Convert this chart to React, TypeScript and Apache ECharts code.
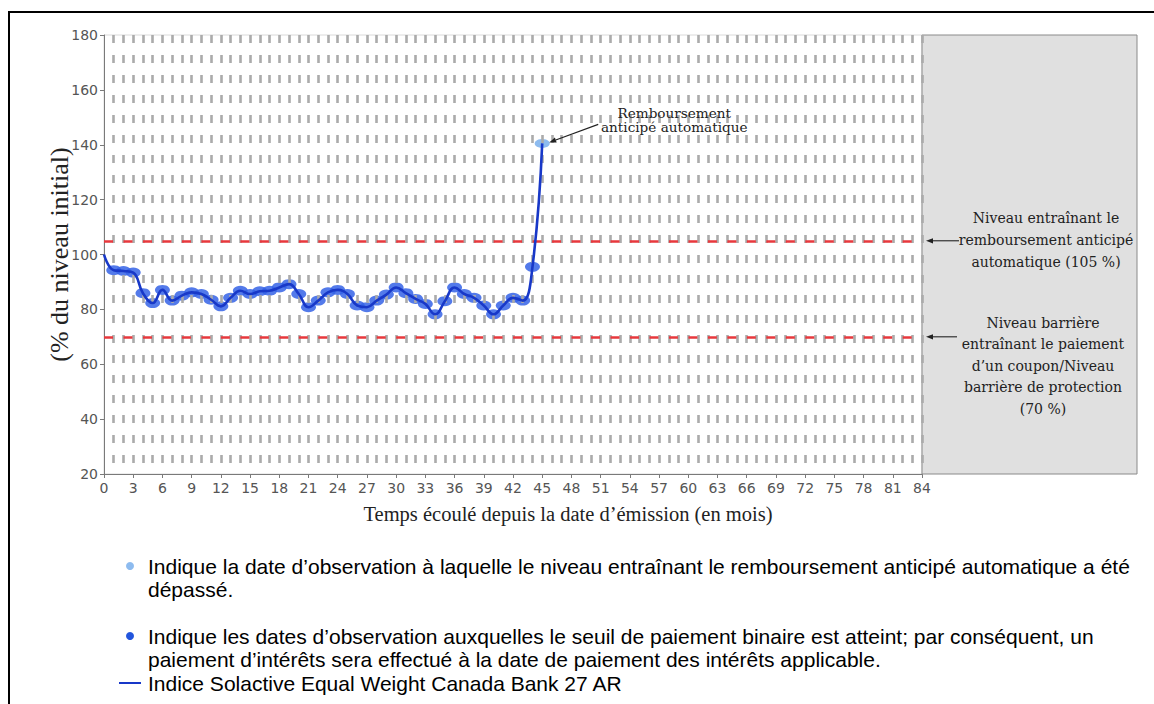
import React, { useEffect, useRef } from 'react';
import * as echarts from 'echarts';

// ---- data ----
const months = [0, 1, 2, 3, 4, 5, 6, 7, 8, 9, 10, 11, 12, 13, 14, 15, 16, 17, 18, 19, 20, 21, 22, 23, 24, 25, 26, 27, 28, 29, 30, 31, 32, 33, 34, 35, 36, 37, 38, 39, 40, 41, 42, 43, 44, 45];
const indexLevels = [100, 94.3, 94, 93.4, 85.9, 82.3, 87.1, 83.2, 85, 86.2, 85.6, 83.5, 81.1, 84.2, 86.8, 85.6, 86.6, 86.8, 88, 89.2, 85.6, 80.8, 83.2, 86.2, 87.1, 85.6, 81.4, 80.8, 83.2, 85.4, 88, 85.9, 83.8, 82, 78.2, 83, 88, 85.6, 84.2, 81.4, 78.2, 81.4, 84.2, 83.2, 95.5, 140.5];
const couponMonths = [1, 2, 3, 4, 5, 6, 7, 8, 9, 10, 11, 12, 13, 14, 15, 16, 17, 18, 19, 20, 21, 22, 23, 24, 25, 26, 27, 28, 29, 30, 31, 32, 33, 34, 35, 36, 37, 38, 39, 40, 41, 42, 43, 44];
const autocallMonth = 45;
const autocallLevel = 105;
const barrierLevel = 70;
const gridMonths = [1, 2, 3, 4, 5, 6, 7, 8, 9, 10, 11, 12, 13, 14, 15, 16, 17, 18, 19, 20, 21, 22, 23, 24, 25, 26, 27, 28, 29, 30, 31, 32, 33, 34, 35, 36, 37, 38, 39, 40, 41, 42, 43, 44, 45, 46, 47, 48, 49, 50, 51, 52, 53, 54, 55, 56, 57, 58, 59, 60, 61, 62, 63, 64, 65, 66, 67, 68, 69, 70, 71, 72, 73, 74, 75, 76, 77, 78, 79, 80, 81, 82, 83, 84];
const xMin = 0, xMax = 84, xStep = 3;
const yMin = 20, yMax = 180, yStep = 20;

const xTitle = 'Temps écoulé depuis la date d’émission (en mois)';
const yTitle = '(% du niveau initial)';
const noteAutocall = 'Remboursement\nanticipé automatique';
const noteAutocallLevel = 'Niveau entraînant le\nremboursement anticipé\nautomatique (105 %)';
const noteBarrier = 'Niveau barrière\nentraînant le paiement\nd’un coupon/Niveau\nbarrière de protection\n(70 %)';
const legend1 = ['Indique la date d’observation à laquelle le niveau entraînant le remboursement anticipé automatique a été', 'dépassé.'];
const legend2 = ['Indique les dates d’observation auxquelles le seuil de paiement binaire est atteint; par conséquent, un', 'paiement d’intérêts sera effectué à la date de paiement des intérêts applicable.'];
const legend3 = 'Indice Solactive Equal Weight Canada Bank 27 AR';

const LINE_BLUE = '#1838c8';
const DOT_BLUE = '#3563e6';
const LIGHT_BLUE = '#8dbbef';

function arrow(x1: number, y1: number, x2: number, y2: number, size = 7, half = 2.6) {
  const ang = Math.atan2(y2 - y1, x2 - x1);
  const bx = x2 - size * Math.cos(ang);
  const by = y2 - size * Math.sin(ang);
  const nx = -Math.sin(ang) * half;
  const ny = Math.cos(ang) * half;
  return [
    { type: 'line', z: 20, shape: { x1, y1, x2: bx, y2: by }, style: { stroke: '#222', lineWidth: 1.1 } },
    { type: 'polygon', z: 20, shape: { points: [[x2, y2], [bx + nx, by + ny], [bx - nx, by - ny]] }, style: { fill: '#222' } },
  ];
}

export default function App() {
  const ref = useRef<HTMLDivElement>(null);
  useEffect(() => {
    if (!ref.current) return;
    const chart = echarts.init(ref.current, null, { renderer: 'svg' });
    const lineData = months.map((m, i) => [m, indexLevels[i]]);
    const couponData = couponMonths.map((m) => [m, indexLevels[months.indexOf(m)]]);
    const autocallData = [[autocallMonth, indexLevels[months.indexOf(autocallMonth)]]];
    const dashStyle = { color: '#ababab', width: 2.6, type: [8, 12] as number[], dashOffset: 9 };

    chart.setOption({
      animation: false,
      backgroundColor: '#ffffff',
      grid: { left: 104, top: 35, width: 818, height: 439, show: true, borderColor: '#dadada', borderWidth: 1, backgroundColor: 'transparent' },
      xAxis: {
        type: 'value', min: xMin, max: xMax, interval: xStep,
        axisLine: { show: true, lineStyle: { color: '#7a7a7a', width: 1 } },
        axisTick: { show: true, length: 4, lineStyle: { color: '#7a7a7a' } },
        axisLabel: { fontFamily: 'DejaVu Sans', fontSize: 14, color: '#555', margin: 7 },
        splitLine: { show: false },
      },
      yAxis: {
        type: 'value', min: yMin, max: yMax, interval: yStep,
        axisLine: { show: true, lineStyle: { color: '#7a7a7a', width: 1 } },
        axisTick: { show: true, length: 4, lineStyle: { color: '#7a7a7a' } },
        axisLabel: { fontFamily: 'DejaVu Sans', fontSize: 14, color: '#555', margin: 6 },
        splitLine: { show: false },
      },
      series: [
        {
          type: 'line', data: [], silent: true, z: 2,
          markLine: {
            silent: true, symbol: 'none', label: { show: false }, animation: false,
            lineStyle: dashStyle,
            data: gridMonths.map((m) => ({ xAxis: m })),
          },
        },
        {
          type: 'line', data: [], silent: true, z: 3,
          markLine: {
            silent: true, symbol: 'none', label: { show: false }, animation: false,
            lineStyle: { color: '#e8383d', width: 2.6, type: [9, 10.48] },
            data: [{ yAxis: autocallLevel }, { yAxis: barrierLevel }],
          },
        },
        {
          type: 'scatter', data: couponData, symbol: 'circle', symbolSize: [15, 10], z: 4, silent: true,
          itemStyle: { color: DOT_BLUE, opacity: 0.85 },
        },
        {
          type: 'scatter', data: autocallData, symbol: 'circle', symbolSize: [15, 9], z: 4, silent: true,
          itemStyle: { color: LIGHT_BLUE, opacity: 1 },
        },
        {
          type: 'line', data: lineData, smooth: 0.45, symbol: 'none', z: 5, silent: true,
          lineStyle: { color: LINE_BLUE, width: 2.6 },
        },
      ],
    });

    const px = (x: number, y: number) => chart.convertToPixel({ gridIndex: 0 }, [x, y]) as number[];
    const topRight = px(xMax, yMax);
    const botRight = px(xMax, yMin);
    const topLeft = px(xMin, yMax);
    const botLeft = px(xMin, yMin);
    const auto = px(autocallMonth, indexLevels[months.indexOf(autocallMonth)]);
    const l105 = px(xMax, autocallLevel);
    const l70 = px(xMax, barrierLevel);
    const grayRight = 1137;

    const legendFont = { fontFamily: 'Liberation Sans, Arial, sans-serif', fontSize: 21, fill: '#000', textVerticalAlign: 'middle' };

    chart.setOption({
      graphic: [
        // outer frame
        { type: 'rect', z: 0, shape: { x: 9, y: 12, width: 1300, height: 900 }, style: { fill: 'none', stroke: '#000', lineWidth: 2 } },
        // grey zone beyond maturity
        { type: 'rect', z: 1, shape: { x: topRight[0], y: topRight[1], width: grayRight - topRight[0], height: botRight[1] - topRight[1] }, style: { fill: '#e0e0e0', stroke: '#8a8a8a', lineWidth: 1 } },
        // axis titles
        { type: 'text', z: 20, x: (topLeft[0] + 1032) / 2, y: botLeft[1] + 40, style: { text: xTitle, fontFamily: 'Liberation Serif, serif', fontSize: 20.5, fill: '#222', textAlign: 'center', textVerticalAlign: 'middle' } },
        { type: 'text', z: 20, x: 59, y: (topLeft[1] + botLeft[1]) / 2, rotation: Math.PI / 2, style: { text: yTitle, fontFamily: 'Liberation Serif, serif', fontSize: 26, fill: '#222', textAlign: 'center', textVerticalAlign: 'middle' } },
        // annotations
        { type: 'text', z: 20, x: auto[0] + 132, y: auto[1] - 38, style: { text: noteAutocall, fontFamily: 'DejaVu Serif, serif', fontSize: 13.6, lineHeight: 14.5, fill: '#222', textAlign: 'center', textVerticalAlign: 'top' } },
        ...arrow(auto[0] + 56, auto[1] - 19, auto[0] + 7, auto[1] - 1),
        { type: 'text', z: 20, x: 1046, y: l105[1] - 34, style: { text: noteAutocallLevel, fontFamily: 'DejaVu Serif, serif', fontSize: 14, lineHeight: 22, fill: '#222', textAlign: 'center', textVerticalAlign: 'top' } },
        ...arrow(l105[0] + 37, l105[1], l105[0] + 4, l105[1]),
        { type: 'text', z: 20, x: 1043, y: l70[1] - 25, style: { text: noteBarrier, fontFamily: 'DejaVu Serif, serif', fontSize: 14, lineHeight: 21.5, fill: '#222', textAlign: 'center', textVerticalAlign: 'top' } },
        ...arrow(l70[0] + 35, l70[1], l70[0] + 4, l70[1]),
        // legend
        { type: 'circle', z: 20, shape: { cx: 130, cy: 566, r: 4 }, style: { fill: LIGHT_BLUE } },
        { type: 'text', z: 20, x: 148, y: 566, style: { text: legend1[0], ...legendFont } },
        { type: 'text', z: 20, x: 148, y: 589, style: { text: legend1[1], ...legendFont } },
        { type: 'circle', z: 20, shape: { cx: 130, cy: 636, r: 4 }, style: { fill: '#2255dd' } },
        { type: 'text', z: 20, x: 148, y: 636, style: { text: legend2[0], ...legendFont } },
        { type: 'text', z: 20, x: 148, y: 659, style: { text: legend2[1], ...legendFont } },
        { type: 'line', z: 20, shape: { x1: 119, y1: 683, x2: 141, y2: 683 }, style: { stroke: LINE_BLUE, lineWidth: 2 } },
        { type: 'text', z: 20, x: 148, y: 683, style: { text: legend3, ...legendFont } },
      ],
    });

    return () => chart.dispose();
  }, []);

  return <div ref={ref} style={{ position: 'fixed', left: 0, top: 0, width: 1154, height: 704, background: '#fff' }} />;
}
